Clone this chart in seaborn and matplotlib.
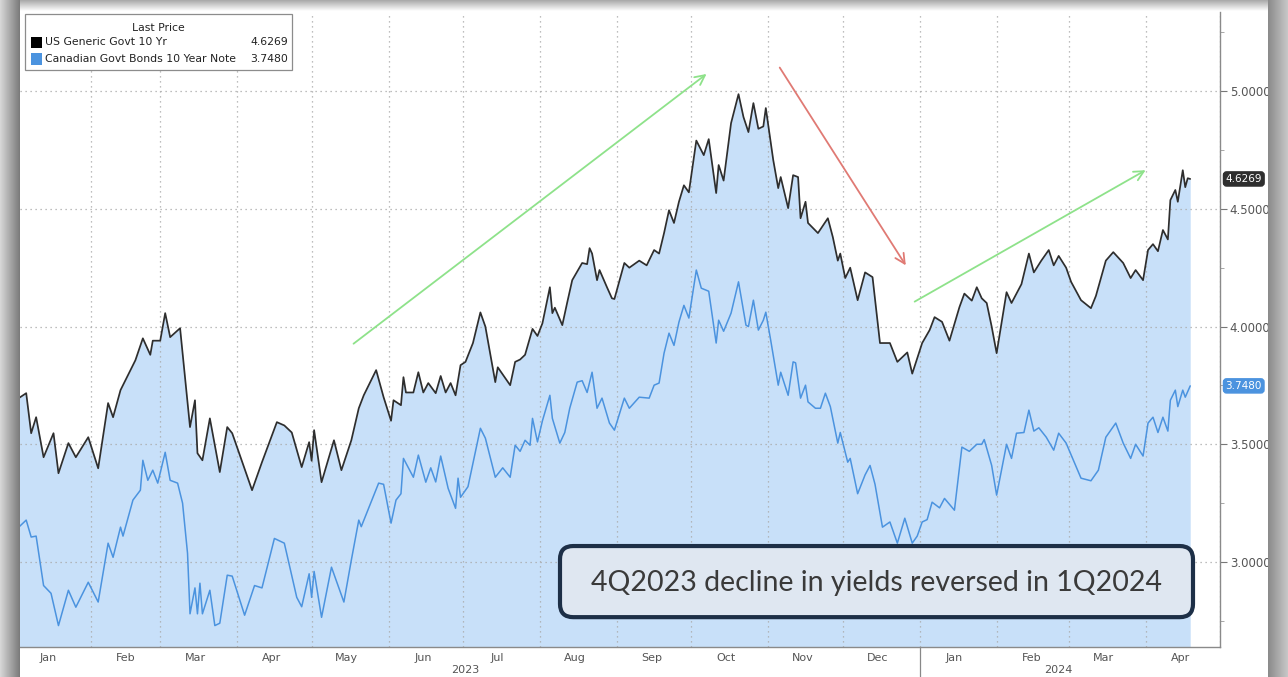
import numpy as np
import pandas as pd
import matplotlib.pyplot as plt
import matplotlib.dates as mdates
import matplotlib.ticker as mticker
from matplotlib.patches import FancyBboxPatch, Rectangle
import seaborn as sns

# ---- data ----
us_dates = [
    "2023-01-03", "2023-01-06", "2023-01-08", "2023-01-10", "2023-01-13", "2023-01-17", "2023-01-19", "2023-01-23", "2023-01-26", "2023-01-31",
    "2023-02-04", "2023-02-08", "2023-02-10", "2023-02-13", "2023-02-19", "2023-02-22", "2023-02-25", "2023-02-26",
    "2023-03-01", "2023-03-03", "2023-03-05", "2023-03-09", "2023-03-13", "2023-03-15", "2023-03-16", "2023-03-18", "2023-03-21", "2023-03-25", "2023-03-28", "2023-03-30",
    "2023-04-07", "2023-04-11", "2023-04-17", "2023-04-20", "2023-04-23", "2023-04-27", "2023-04-30",
    "2023-05-01", "2023-05-02", "2023-05-05", "2023-05-10", "2023-05-13", "2023-05-17", "2023-05-20", "2023-05-22", "2023-05-27", "2023-05-30",
    "2023-06-02", "2023-06-03", "2023-06-06", "2023-06-07", "2023-06-08", "2023-06-11", "2023-06-13", "2023-06-15", "2023-06-17", "2023-06-20", "2023-06-22", "2023-06-24", "2023-06-26", "2023-06-28", "2023-06-30",
    "2023-07-02", "2023-07-05", "2023-07-08", "2023-07-10", "2023-07-14", "2023-07-15", "2023-07-20", "2023-07-22", "2023-07-24", "2023-07-26", "2023-07-29", "2023-07-31",
    "2023-08-02", "2023-08-05", "2023-08-06", "2023-08-07", "2023-08-10", "2023-08-12", "2023-08-14", "2023-08-18", "2023-08-20", "2023-08-21", "2023-08-22", "2023-08-24", "2023-08-25", "2023-08-28", "2023-08-30", "2023-08-31",
    "2023-09-04", "2023-09-06", "2023-09-10", "2023-09-13", "2023-09-16", "2023-09-18", "2023-09-20", "2023-09-22", "2023-09-24", "2023-09-26", "2023-09-28", "2023-09-30",
    "2023-10-03", "2023-10-06", "2023-10-08", "2023-10-11", "2023-10-12", "2023-10-14", "2023-10-17", "2023-10-20", "2023-10-22", "2023-10-24", "2023-10-26", "2023-10-28", "2023-10-30", "2023-10-31",
    "2023-11-03", "2023-11-05", "2023-11-06", "2023-11-09", "2023-11-11", "2023-11-13", "2023-11-14", "2023-11-16", "2023-11-17", "2023-11-21", "2023-11-25", "2023-11-27", "2023-11-29", "2023-11-30",
    "2023-12-02", "2023-12-04", "2023-12-07", "2023-12-10", "2023-12-13", "2023-12-16", "2023-12-20", "2023-12-23", "2023-12-27", "2023-12-29",
    "2024-01-02", "2024-01-05", "2024-01-07", "2024-01-10", "2024-01-13", "2024-01-17", "2024-01-19", "2024-01-22", "2024-01-24", "2024-01-26", "2024-01-28", "2024-01-30",
    "2024-02-01", "2024-02-05", "2024-02-07", "2024-02-11", "2024-02-14", "2024-02-16", "2024-02-19", "2024-02-22", "2024-02-24", "2024-02-26", "2024-02-29",
    "2024-03-02", "2024-03-06", "2024-03-10", "2024-03-12", "2024-03-16", "2024-03-19", "2024-03-23", "2024-03-26", "2024-03-28", "2024-03-31",
    "2024-04-02", "2024-04-04", "2024-04-06", "2024-04-08", "2024-04-10", "2024-04-11", "2024-04-13", "2024-04-14", "2024-04-16", "2024-04-17", "2024-04-18", "2024-04-19",
]
us_yield = [
    3.696, 3.717, 3.547, 3.615, 3.445, 3.547, 3.377, 3.505, 3.445, 3.53,
    3.398, 3.675, 3.615, 3.73, 3.857, 3.95, 3.88, 3.94,
    3.94, 4.057, 3.955, 3.993, 3.573, 3.687, 3.462, 3.432, 3.61, 3.382, 3.573, 3.547,
    3.305, 3.424, 3.594, 3.58, 3.55, 3.403, 3.509,
    3.43, 3.56, 3.339, 3.517, 3.39, 3.517, 3.653, 3.708, 3.815, 3.70,
    3.60, 3.687, 3.666, 3.785, 3.72, 3.72, 3.806, 3.72, 3.76, 3.717, 3.79, 3.72, 3.76, 3.708, 3.836,
    3.85, 3.93, 4.06, 4.0, 3.764, 3.827, 3.751, 3.85, 3.86, 3.88, 3.99, 3.96,
    4.014, 4.167, 4.057, 4.08, 4.006, 4.103, 4.197, 4.27, 4.265, 4.333, 4.31, 4.197, 4.24, 4.167, 4.12, 4.117,
    4.27, 4.25, 4.28, 4.26, 4.325, 4.31, 4.397, 4.494, 4.44, 4.53, 4.60, 4.57,
    4.79, 4.728, 4.796, 4.567, 4.686, 4.62, 4.864, 4.987, 4.89, 4.826, 4.949, 4.84, 4.85, 4.928,
    4.707, 4.588, 4.635, 4.503, 4.643, 4.635, 4.46, 4.53, 4.44, 4.397, 4.46, 4.38, 4.28, 4.31,
    4.206, 4.25, 4.112, 4.23, 4.21, 3.93, 3.93, 3.85, 3.89, 3.80,
    3.93, 3.985, 4.04, 4.02, 3.94, 4.082, 4.14, 4.11, 4.167, 4.12, 4.10, 4.0,
    3.887, 4.146, 4.10, 4.18, 4.31, 4.23, 4.28, 4.325, 4.26, 4.30, 4.25,
    4.19, 4.112, 4.078, 4.13, 4.28, 4.316, 4.27, 4.206, 4.24, 4.197,
    4.325, 4.35, 4.32, 4.41, 4.37, 4.537, 4.58, 4.53, 4.664, 4.592, 4.63, 4.6269,
]

ca_dates = [
    "2023-01-03", "2023-01-06", "2023-01-08", "2023-01-10", "2023-01-13", "2023-01-16", "2023-01-19", "2023-01-23", "2023-01-26", "2023-01-31",
    "2023-02-04", "2023-02-08", "2023-02-10", "2023-02-13", "2023-02-14", "2023-02-18", "2023-02-21", "2023-02-22", "2023-02-24", "2023-02-26", "2023-02-28",
    "2023-03-03", "2023-03-05", "2023-03-08", "2023-03-10", "2023-03-12", "2023-03-13", "2023-03-15", "2023-03-16", "2023-03-17", "2023-03-18", "2023-03-21", "2023-03-23", "2023-03-25", "2023-03-28", "2023-03-30",
    "2023-04-04", "2023-04-08", "2023-04-11", "2023-04-16", "2023-04-20", "2023-04-25", "2023-04-27", "2023-04-30",
    "2023-05-01", "2023-05-02", "2023-05-05", "2023-05-09", "2023-05-14", "2023-05-17", "2023-05-20", "2023-05-21", "2023-05-28", "2023-05-30",
    "2023-06-02", "2023-06-04", "2023-06-06", "2023-06-07", "2023-06-11", "2023-06-13", "2023-06-16", "2023-06-18", "2023-06-20", "2023-06-22", "2023-06-25", "2023-06-28", "2023-06-29", "2023-06-30",
    "2023-07-03", "2023-07-08", "2023-07-10", "2023-07-14", "2023-07-17", "2023-07-20", "2023-07-22", "2023-07-24", "2023-07-26", "2023-07-28", "2023-07-29", "2023-07-31",
    "2023-08-02", "2023-08-05", "2023-08-06", "2023-08-09", "2023-08-11", "2023-08-13", "2023-08-16", "2023-08-18", "2023-08-20", "2023-08-22", "2023-08-24", "2023-08-26", "2023-08-29", "2023-08-31",
    "2023-09-04", "2023-09-06", "2023-09-10", "2023-09-14", "2023-09-16", "2023-09-18", "2023-09-20", "2023-09-22", "2023-09-24", "2023-09-26", "2023-09-28", "2023-09-30",
    "2023-10-03", "2023-10-05", "2023-10-08", "2023-10-11", "2023-10-12", "2023-10-14", "2023-10-17", "2023-10-20", "2023-10-23", "2023-10-24", "2023-10-26", "2023-10-28", "2023-10-30", "2023-10-31",
    "2023-11-02", "2023-11-05", "2023-11-06", "2023-11-09", "2023-11-11", "2023-11-12", "2023-11-14", "2023-11-16", "2023-11-17", "2023-11-20", "2023-11-22", "2023-11-24", "2023-11-26", "2023-11-29", "2023-11-30",
    "2023-12-03", "2023-12-04", "2023-12-07", "2023-12-10", "2023-12-12", "2023-12-14", "2023-12-17", "2023-12-20", "2023-12-23", "2023-12-26", "2023-12-29", "2023-12-31",
    "2024-01-02", "2024-01-04", "2024-01-06", "2024-01-09", "2024-01-11", "2024-01-15", "2024-01-18", "2024-01-21", "2024-01-24", "2024-01-26", "2024-01-27", "2024-01-30",
    "2024-02-01", "2024-02-05", "2024-02-07", "2024-02-09", "2024-02-12", "2024-02-14", "2024-02-16", "2024-02-18", "2024-02-21", "2024-02-24", "2024-02-26", "2024-02-29",
    "2024-03-03", "2024-03-06", "2024-03-10", "2024-03-13", "2024-03-16", "2024-03-20", "2024-03-23", "2024-03-26", "2024-03-28", "2024-03-31",
    "2024-04-02", "2024-04-04", "2024-04-06", "2024-04-08", "2024-04-10", "2024-04-11", "2024-04-13", "2024-04-14", "2024-04-16", "2024-04-17", "2024-04-19",
]
ca_yield = [
    3.148, 3.178, 3.106, 3.11, 2.90, 2.867, 2.73, 2.88, 2.808, 2.914,
    2.83, 3.08, 3.02, 3.148, 3.11, 3.263, 3.305, 3.432, 3.347, 3.39, 3.335,
    3.466, 3.347, 3.335, 3.25, 3.037, 2.78, 2.89, 2.78, 2.91, 2.78, 2.88, 2.73, 2.74, 2.944, 2.94,
    2.774, 2.90, 2.89, 3.10, 3.08, 2.85, 2.81, 2.95,
    2.85, 2.96, 2.765, 2.978, 2.83, 3.008, 3.178, 3.15, 3.335, 3.33,
    3.165, 3.263, 3.29, 3.44, 3.36, 3.454, 3.339, 3.40, 3.34, 3.45, 3.313, 3.228, 3.356, 3.275,
    3.32, 3.568, 3.526, 3.36, 3.40, 3.36, 3.496, 3.47, 3.517, 3.496, 3.61, 3.51,
    3.60, 3.708, 3.61, 3.505, 3.55, 3.653, 3.764, 3.77, 3.72, 3.806, 3.653, 3.696, 3.59, 3.56,
    3.696, 3.653, 3.70, 3.696, 3.751, 3.76, 3.887, 3.972, 3.92, 4.019, 4.09, 4.036,
    4.24, 4.163, 4.15, 3.93, 4.027, 3.98, 4.057, 4.19, 4.006, 4.0, 4.112, 3.985, 4.027, 4.061,
    3.94, 3.751, 3.806, 3.708, 3.85, 3.846, 3.696, 3.751, 3.68, 3.653, 3.653, 3.717, 3.66, 3.505, 3.55,
    3.424, 3.44, 3.29, 3.37, 3.41, 3.33, 3.148, 3.17, 3.08, 3.186, 3.08, 3.11,
    3.17, 3.18, 3.254, 3.23, 3.27, 3.22, 3.488, 3.47, 3.50, 3.50, 3.52, 3.41,
    3.284, 3.50, 3.44, 3.547, 3.55, 3.645, 3.556, 3.57, 3.53, 3.475, 3.547, 3.505,
    3.43, 3.356, 3.345, 3.39, 3.53, 3.59, 3.505, 3.44, 3.50, 3.45,
    3.59, 3.615, 3.55, 3.615, 3.556, 3.687, 3.73, 3.66, 3.73, 3.70, 3.748,
]

series_names = ["US Generic Govt 10 Yr", "Canadian Govt Bonds 10 Year Note"]
last_prices = ["4.6269", "3.7480"]
series_colors = ["#2e2e2e", "#4b93df"]
callout = "4Q2023 decline in yields reversed in 1Q2024"

# trend arrows: (start date, start yield, end date, end yield, colour)
trend_arrows = [
    ("2023-05-17", 3.92, "2023-10-08", 5.08, "#8ee28a"),
    ("2023-11-05", 5.11, "2023-12-27", 4.25, "#e07a74"),
    ("2023-12-29", 4.10, "2024-04-02", 4.67, "#8ee28a"),
]

us = pd.DataFrame({"date": pd.to_datetime(us_dates), "yield": us_yield})
ca = pd.DataFrame({"date": pd.to_datetime(ca_dates), "yield": ca_yield})

sns.set_style("white")
plt.rcParams["font.family"] = ["DejaVu Sans"]

fig = plt.figure(figsize=(12.88, 6.77), dpi=100)
ax = fig.add_axes([20 / 1288, 1 - 647 / 677, 1200 / 1288, 635 / 677])

y_low, y_high = 2.639, 5.336
ax.fill_between(us["date"], us["yield"], y_low, color="#c8e0f9", lw=0, zorder=1)
sns.lineplot(data=us, x="date", y="yield", ax=ax, color=series_colors[0], lw=1.25, zorder=3)
sns.lineplot(data=ca, x="date", y="yield", ax=ax, color=series_colors[1], lw=1.1, zorder=3)

ax.set_xlim(pd.Timestamp("2023-01-03 12:00"), pd.Timestamp("2024-05-01"))
ax.set_ylim(y_low, y_high)
ax.set_xlabel("")
ax.set_ylabel("")

# x axis: month boundaries as grid, month names centred in each month
ax.xaxis.set_major_locator(mdates.MonthLocator())
ax.xaxis.set_major_formatter(mticker.NullFormatter())
ax.xaxis.set_minor_locator(mdates.MonthLocator(bymonthday=15))
ax.xaxis.set_minor_formatter(mdates.DateFormatter("%b"))
ax.tick_params(axis="x", which="major", length=4, color="#888888", direction="out")
ax.tick_params(axis="x", which="minor", length=0, labelsize=8, labelcolor="#555555", pad=4)

# y axis on the right
ax.yaxis.tick_right()
ax.yaxis.set_major_locator(mticker.MultipleLocator(0.5))
ax.yaxis.set_minor_locator(mticker.MultipleLocator(0.25))
ax.yaxis.set_major_formatter(mticker.FormatStrFormatter("%.4f"))
ax.tick_params(axis="y", which="major", length=5, color="#777777", labelsize=8.5,
               labelcolor="#555555", pad=2, right=True, left=False)
ax.tick_params(axis="y", which="minor", length=3, color="#999999", right=True, left=False)

ax.grid(True, which="major", color="#a9a9a9", linestyle=(0, (1, 3)), lw=0.9)
ax.set_axisbelow("line")
for side in ["left", "top"]:
    ax.spines[side].set_visible(False)
for side in ["right", "bottom"]:
    ax.spines[side].set_color("#8a8a8a")
    ax.spines[side].set_linewidth(1.0)

# year labels and separator
xt = ax.get_xaxis_transform()
ax.text(pd.Timestamp("2023-07-02"), -0.037, "2023", transform=xt, ha="center", va="center",
        fontsize=8, color="#555555")
ax.text(pd.Timestamp("2024-02-26"), -0.037, "2024", transform=xt, ha="center", va="center",
        fontsize=8, color="#555555")
ax.plot([pd.Timestamp("2024-01-01")] * 2, [0, -0.06], transform=xt, color="#888888",
        lw=0.9, clip_on=False)

# last value tags on the right axis
yt = ax.get_yaxis_transform()
for price, color in zip(last_prices, series_colors):
    ax.annotate(price, xy=(1.0, float(price)), xycoords=yt, xytext=(4, 0),
                textcoords="offset points", ha="left", va="center", fontsize=7.5,
                color="white", annotation_clip=False,
                bbox=dict(boxstyle="round,pad=0.2,rounding_size=0.3", fc=color, ec=color))

# trend arrows
for x0, y0, x1, y1, c in trend_arrows:
    ax.annotate("", xy=(pd.Timestamp(x1), y1), xytext=(pd.Timestamp(x0), y0),
                arrowprops=dict(arrowstyle="->,head_length=0.7,head_width=0.35", color=c, lw=1.3),
                zorder=4)

# legend box
ax.add_patch(Rectangle((0.004, 0.909), 0.223, 0.088, transform=ax.transAxes, fc="white",
                       ec="#8c8c8c", lw=0.9, zorder=6))
ax.text(0.115, 0.975, "Last Price", transform=ax.transAxes, ha="center", va="center",
        fontsize=7.8, color="#222222", zorder=7)
for i, (name, price, color) in enumerate(zip(series_names, last_prices, series_colors)):
    yy = 0.952 - i * 0.026
    ax.add_patch(Rectangle((0.0095, yy - 0.009), 0.0085, 0.018, transform=ax.transAxes,
                           fc=color if i else "black", ec="none", zorder=7))
    ax.text(0.0205, yy, name, transform=ax.transAxes, ha="left", va="center",
            fontsize=7.8, color="#222222", zorder=7)
    ax.text(0.2235, yy, price, transform=ax.transAxes, ha="right", va="center",
            fontsize=7.8, color="#222222", zorder=7)

# callout box
ax.add_patch(FancyBboxPatch((0.45, 0.047), 0.5275, 0.112, transform=ax.transAxes,
                            boxstyle="round,pad=0,rounding_size=0.011",
                            mutation_aspect=1200 / 635, fc="#dfe7f1", ec="#1d2f47",
                            lw=3, zorder=8))
ax.text(0.7135, 0.101, callout, transform=ax.transAxes, ha="center", va="center",
        fontsize=20.5, fontweight=400, color="#3a3a3a",
        family=["Lato", "DejaVu Sans"], zorder=9)

# screenshot frame shadow
def shade(rect, horizontal, c0, c1):
    sub = fig.add_axes(rect)
    grad = np.linspace(0, 1, 64)
    img = grad[None, :] if horizontal else grad[:, None]
    cmap = sns.blend_palette([c0, c1], as_cmap=True)
    sub.imshow(img, aspect="auto", cmap=cmap, extent=(0, 1, 0, 1))
    sub.set_axis_off()

shade([0, 0, 20 / 1288, 1], True, "#d8d8d8", "#7a7a7a")
shade([1268 / 1288, 0, 20 / 1288, 1], True, "#8a8a8a", "#c8c8c8")
shade([20 / 1288, 1 - 11 / 677, 1248 / 1288, 11 / 677], False, "#a8a8a8", "#ffffff")

fig.savefig("out.png", dpi=100)
